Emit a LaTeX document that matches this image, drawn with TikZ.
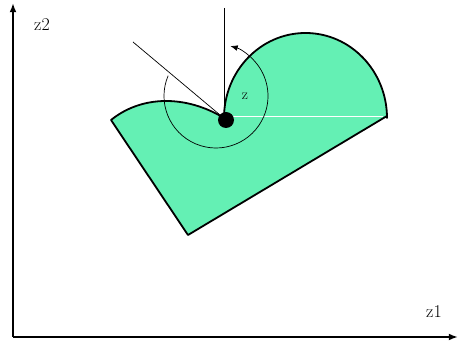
\documentclass[tikz,border=0pt]{standalone}
\usepackage{tikz}
\usetikzlibrary{positioning,arrows.meta,calc}
\definecolor{regiongreen}{RGB}{100,240,180}
\tikzset{
  axisarrow/.style={-{Latex[length=3.2mm, width=2.4mm]}, line width=1.8pt},
  boundary/.style={line width=1.8pt, line join=round},
  rayline/.style={line width=0.7pt},
  turnarrow/.style={-{Latex[length=2.6mm, width=2mm]}, line width=0.7pt},
  dotnode/.style={circle, fill=black, minimum size=16pt, inner sep=0pt},
  axislabel/.style={font=\fontsize{18}{20}\selectfont, inner sep=1pt},
  anglabel/.style={font=\fontsize{15}{17}\selectfont, inner sep=1pt}
}
\begin{document}
\begin{tikzpicture}[>=Latex, x=1pt, y=1pt]
      \useasboundingbox (0,0) rectangle (459,343);
      % axes
      \coordinate (origin) at (13,6);
      \coordinate (ytip) at (13,340);
      \coordinate (xtip) at (458,6);
      \draw[axisarrow] (origin) -- (ytip);
      \draw[axisarrow] (origin) -- (xtip);
      \node[axislabel] (zlabtwo) at (42,318) {z2};
      \node[axislabel] (zlabone) at (434,31) {z1};
      % region
      \coordinate (lcorner) at (111,223);
      \coordinate (bcorner) at (188,108);
      \coordinate (rcorner) at (387,227);
      \coordinate (dip) at (224,225);
      \fill[regiongreen] (lcorner) .. controls (142,248) and (186,248) .. (dip)
        arc[start angle=180, end angle=0, x radius=81.5, y radius=85] -- (rcorner) -- (bcorner) -- cycle;
      \draw[white, line width=0.6pt] (233,227) -- (383,227);
      \draw[boundary] (lcorner) .. controls (142,248) and (186,248) .. (dip)
        arc[start angle=180, end angle=0, x radius=81.5, y radius=85] -- (rcorner) -- (bcorner) -- cycle;
      % rays and turning angle
      \node[dotnode] (pivot) at (226,223) {};
      \coordinate (vtop) at (224,335);
      \coordinate (dtop) at (133,301);
      \draw[rayline] (vtop) -- (vtop |- pivot.north);
      \draw[rayline] (dtop) -- (pivot);
      \draw[turnarrow] ($(216,247)+(157:52)$) arc[start angle=157, end angle=434, radius=52];
      \node[anglabel] (zlab) at (245,247) {z};
    \end{tikzpicture}
\end{document}
